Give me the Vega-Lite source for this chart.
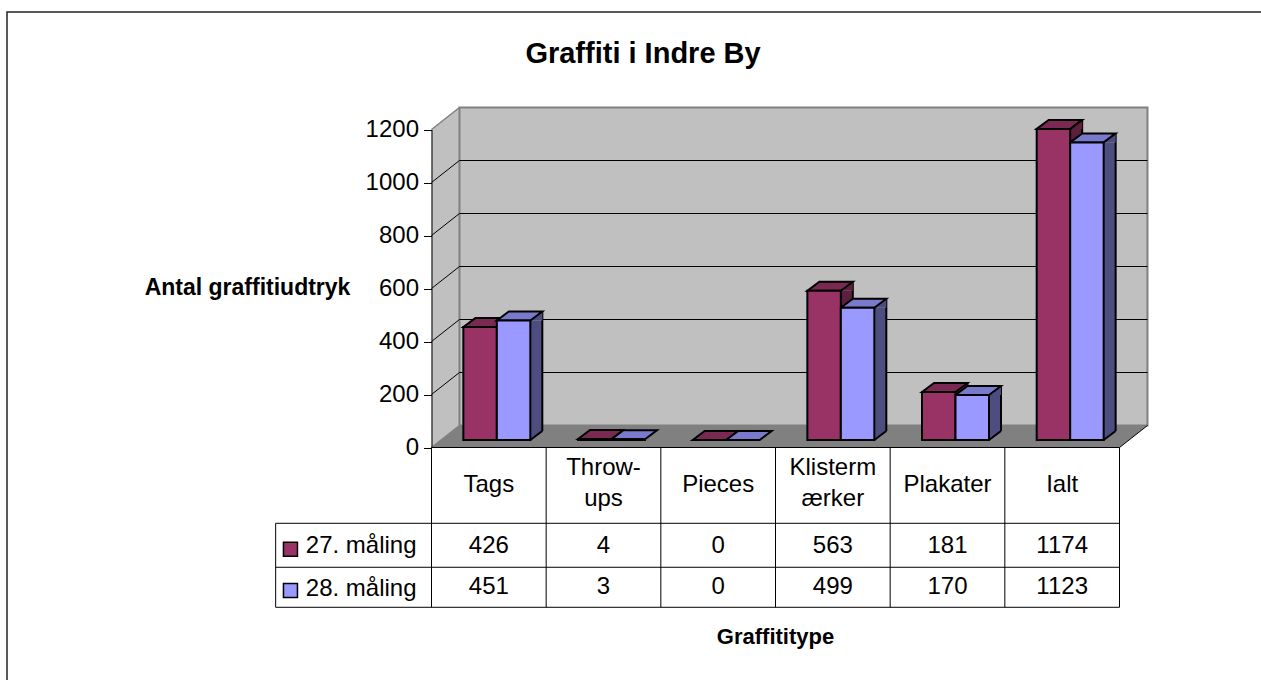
{
"$schema":"https://vega.github.io/schema/vega-lite/v6.json",
"autosize":"none",
"padding":{"left":7,"top":12,"right":0,"bottom":0},
"width":1260,"height":680,
"background":"white",
"view":{"stroke":"#222222","strokeWidth":1.5,"fill":"white"},
"config":{"font":"Liberation Sans","text":{"font":"Liberation Sans"}},
"title":{"text":"Graffiti i Indre By","font":"Liberation Sans","fontSize":29,"fontWeight":"bold","color":"#000000","anchor":"middle","frame":"group","baseline":"middle","dx":6,"dy":71,"offset":0},
"datasets":{
"bars":[
{"type":"Tags","label":"Tags","serie":"27. måling","value":426},
{"type":"Throw-ups","label":"Throw-\nups","serie":"27. måling","value":4},
{"type":"Pieces","label":"Pieces","serie":"27. måling","value":0},
{"type":"Klistermærker","label":"Klisterm\nærker","serie":"27. måling","value":563},
{"type":"Plakater","label":"Plakater","serie":"27. måling","value":181},
{"type":"Ialt","label":"Ialt","serie":"27. måling","value":1174},
{"type":"Tags","label":"Tags","serie":"28. måling","value":451},
{"type":"Throw-ups","label":"Throw-\nups","serie":"28. måling","value":3},
{"type":"Pieces","label":"Pieces","serie":"28. måling","value":0},
{"type":"Klistermærker","label":"Klisterm\nærker","serie":"28. måling","value":499},
{"type":"Plakater","label":"Plakater","serie":"28. måling","value":170},
{"type":"Ialt","label":"Ialt","serie":"28. måling","value":1123}
],
"leftwall":[{"a":0,"lo":0,"hi":1200},{"a":0.244,"lo":83,"hi":1283}],
"floor":[{"v":0,"a":0,"b":6},{"v":83,"a":0.244,"b":6.244}],
"backwall":[{"a":0.244,"b":6.244,"lo":83,"hi":1283}],
"blacklines":[
{"a":0.244,"b":6.244,"p":283,"q":283},{"a":0.244,"b":6.244,"p":483,"q":483},{"a":0.244,"b":6.244,"p":683,"q":683},{"a":0.244,"b":6.244,"p":883,"q":883},{"a":0.244,"b":6.244,"p":1083,"q":1083},
{"a":0,"b":0.244,"p":200,"q":283},{"a":0,"b":0.244,"p":400,"q":483},{"a":0,"b":0.244,"p":600,"q":683},{"a":0,"b":0.244,"p":800,"q":883},{"a":0,"b":0.244,"p":1000,"q":1083},
{"a":6,"b":6.244,"p":0,"q":83},
{"a":0,"b":6,"p":0,"q":0},
{"a":-1.359,"b":6,"p":-286,"q":-286},{"a":-1.359,"b":6,"p":-452,"q":-452},{"a":-1.359,"b":6,"p":-603,"q":-603},
{"a":-1.359,"b":-1.359,"p":-286,"q":-603},
{"a":0,"b":0,"p":0,"q":-603},{"a":1,"b":1,"p":0,"q":-603},{"a":2,"b":2,"p":0,"q":-603},{"a":3,"b":3,"p":0,"q":-603},{"a":4,"b":4,"p":0,"q":-603},{"a":5,"b":5,"p":0,"q":-603},{"a":6,"b":6,"p":0,"q":-603}
],
"graylines":[{"a":0,"b":0.244,"p":1200,"q":1283},{"a":0,"b":0.244,"p":0,"q":83}]
},
"resolve":{"scale":{"x":"independent","xOffset":"independent","color":"independent"},"axis":{"x":"independent","y":"independent"}},
"layer":[
{"resolve":{"axis":{"x":"independent","y":"independent"}},"layer":[
{"data":{"name":"leftwall"},"mark":{"type":"area","fill":"#C0C0C0","stroke":null},
 "encoding":{"x":{"field":"a","type":"quantitative","scale":{"domain":[0,6],"range":[424.5,1112.5],"zero":false,"nice":false},
   "axis":{"orient":"bottom","title":"Graffititype","labels":false,"ticks":false,"domain":false,"grid":false,"titleFont":"Liberation Sans","titleFontSize":22,"titleFontWeight":"bold","titleColor":"#000000","titleX":768,"titleY":-56,"titleAlign":"center","titleAnchor":null,"titleBaseline":"middle"}},
  "y":{"field":"lo","type":"quantitative","scale":{"domain":[0,1200],"range":[435.5,117.5],"nice":false,"zero":false},
   "axis":{"orient":"left","offset":-424.5,"zindex":1,"title":"Antal graffitiudtryk","values":[0,200,400,600,800,1000,1200],"format":"d","grid":false,"tickSize":8,"tickColor":"#000000","domainColor":"#000000","labelFont":"Liberation Sans","labelFontSize":24,"labelColor":"#000000","labelPadding":5,"titleFont":"Liberation Sans","titleFontSize":23,"titleFontWeight":"bold","titleColor":"#000000","titleAngle":0,"titleX":-184.5,"titleY":275,"titleAlign":"center","titleBaseline":"middle","titleAnchor":null}},
  "y2":{"field":"hi"}}},
{"data":{"name":"floor"},"mark":{"type":"area","orient":"horizontal","fill":"#808080","stroke":null},
 "encoding":{"y":{"field":"v","type":"quantitative","scale":{"domain":[0,1200],"range":[435.5,117.5],"nice":false,"zero":false},"axis":null},
  "x":{"field":"a","type":"quantitative","scale":{"domain":[0,6],"range":[424.5,1112.5],"zero":false,"nice":false},"axis":null},
  "x2":{"field":"b"}}},
{"data":{"name":"backwall"},"mark":{"type":"rect","fill":"#C0C0C0","stroke":"#808080","strokeWidth":2},
 "encoding":{"x":{"field":"a","type":"quantitative","scale":{"domain":[0,6],"range":[424.5,1112.5],"zero":false,"nice":false},"axis":null},"x2":{"field":"b"},
  "y":{"field":"lo","type":"quantitative","scale":{"domain":[0,1200],"range":[435.5,117.5],"nice":false,"zero":false},"axis":null},"y2":{"field":"hi"}}},
{"data":{"name":"graylines"},"mark":{"type":"rule","stroke":"#808080","strokeWidth":1.5},
 "encoding":{"x":{"field":"a","type":"quantitative","scale":{"domain":[0,6],"range":[424.5,1112.5],"zero":false,"nice":false},"axis":null},"x2":{"field":"b"},
  "y":{"field":"p","type":"quantitative","scale":{"domain":[0,1200],"range":[435.5,117.5],"nice":false,"zero":false},"axis":null},"y2":{"field":"q"}}},
{"data":{"name":"blacklines"},"mark":{"type":"rule","stroke":"#000000","strokeWidth":1},
 "encoding":{"x":{"field":"a","type":"quantitative","scale":{"domain":[0,6],"range":[424.5,1112.5],"zero":false,"nice":false},"axis":null},"x2":{"field":"b"},
  "y":{"field":"p","type":"quantitative","scale":{"domain":[0,1200],"range":[435.5,117.5],"nice":false,"zero":false},"axis":null},"y2":{"field":"q"}}},
{"data":{"name":"bars"},"transform":[{"filter":"datum.type=='Tags' && datum.serie=='27. måling'"}],"mark":{"type":"point","shape":"square","size":196,"filled":true,"fill":"#993366","stroke":"#000000","strokeWidth":1.5,"opacity":1},
 "encoding":{"x":{"datum":-1.23,"type":"quantitative","scale":{"domain":[0,6],"range":[424.5,1112.5],"zero":false,"nice":false},"axis":null},
  "y":{"datum":-384,"type":"quantitative","scale":{"domain":[0,1200],"range":[435.5,117.5],"nice":false,"zero":false},"axis":null}}},
{"data":{"name":"bars"},"transform":[{"filter":"datum.type=='Tags' && datum.serie=='28. måling'"}],"mark":{"type":"point","shape":"square","size":196,"filled":true,"fill":"#9999FF","stroke":"#000000","strokeWidth":1.5,"opacity":1},
 "encoding":{"x":{"datum":-1.23,"type":"quantitative","scale":{"domain":[0,6],"range":[424.5,1112.5],"zero":false,"nice":false},"axis":null},
  "y":{"datum":-540,"type":"quantitative","scale":{"domain":[0,1200],"range":[435.5,117.5],"nice":false,"zero":false},"axis":null}}},
{"data":{"name":"bars"},"transform":[{"filter":"datum.type=='Tags' && datum.serie=='27. måling'"}],"mark":{"type":"text","align":"left","baseline":"middle","fontSize":24,"color":"#000000"},
 "encoding":{"text":{"field":"serie"},"x":{"datum":-1.096,"type":"quantitative","scale":{"domain":[0,6],"range":[424.5,1112.5],"zero":false,"nice":false},"axis":null},
  "y":{"datum":-372,"type":"quantitative","scale":{"domain":[0,1200],"range":[435.5,117.5],"nice":false,"zero":false},"axis":null}}},
{"data":{"name":"bars"},"transform":[{"filter":"datum.type=='Tags' && datum.serie=='28. måling'"}],"mark":{"type":"text","align":"left","baseline":"middle","fontSize":24,"color":"#000000"},
 "encoding":{"text":{"field":"serie"},"x":{"datum":-1.096,"type":"quantitative","scale":{"domain":[0,6],"range":[424.5,1112.5],"zero":false,"nice":false},"axis":null},
  "y":{"datum":-533,"type":"quantitative","scale":{"domain":[0,1200],"range":[435.5,117.5],"nice":false,"zero":false},"axis":null}}}
]},
{"data":{"name":"bars"},"transform":[{"filter":"datum.value>34"}],"mark":{"type":"bar","width":12,"yOffset":-7.5,"y2Offset":-16.5},
 "encoding":{
  "x":{"field":"type","type":"nominal","sort":null,"scale":{"type":"band","domain":["Tags","Throw-ups","Pieces","Klistermærker","Plakater","Ialt"],"range":[455.24,1143.24],"paddingInner":0.416,"paddingOuter":0.208},"axis":null},
  "xOffset":{"field":"serie","type":"nominal","scale":{"domain":["27. måling","28. måling"],"range":[0,66.97]}},
  "y":{"field":"value","type":"quantitative","scale":{"domain":[0,1200],"range":[435.5,117.5],"nice":false,"zero":false},"axis":null},
  "y2":{"datum":0},
  "color":{"field":"serie","type":"nominal","legend":null,"scale":{"domain":["27. måling","28. måling"],"range":["#5C1F3D","#4D4D80"]}}}},
{"data":{"name":"bars"},"transform":[{"filter":"datum.value>34"}],"mark":{"type":"bar","width":2,"yOffset":-16.5,"y2Offset":-16.5,"color":"#000000"},
 "encoding":{
  "x":{"field":"type","type":"nominal","sort":null,"scale":{"type":"band","domain":["Tags","Throw-ups","Pieces","Klistermærker","Plakater","Ialt"],"range":[461.24,1149.24],"paddingInner":0.416,"paddingOuter":0.208},"axis":null},
  "xOffset":{"field":"serie","type":"nominal","scale":{"domain":["27. måling","28. måling"],"range":[0,66.97]}},
  "y":{"field":"value","type":"quantitative","scale":{"domain":[0,1200],"range":[435.5,117.5],"nice":false,"zero":false},"axis":null},
  "y2":{"datum":0}}},
{"data":{"name":"bars"},
 "resolve":{"scale":{"color":"independent"},"axis":{"x":"independent","y":"independent"}},
 "encoding":{
  "x":{"field":"type","type":"nominal","sort":null,"scale":{"type":"band","domain":["Tags","Throw-ups","Pieces","Klistermærker","Plakater","Ialt"],"range":[432.5,1120.5],"paddingInner":0.416,"paddingOuter":0.208},"axis":null},
  "y":{"field":"value","type":"quantitative","scale":{"domain":[0,1200],"range":[435.5,117.5],"nice":false,"zero":false},"axis":null}
 },
 "layer":[
 {"transform":[{"filter":"datum.value>34"}],"mark":{"type":"point","filled":true,"size":4,"opacity":1,"stroke":null,"shape":"M16.74,-7.5L28.74,-16.5L28.74,-7.5Z"},
  "encoding":{"xOffset":{"field":"serie","type":"nominal","scale":{"domain":["27. måling","28. måling"],"range":[0,66.97]}},
   "color":{"field":"serie","type":"nominal","legend":null,"scale":{"domain":["27. måling","28. måling"],"range":["#5C1F3D","#4D4D80"]}}}},
 {"transform":[{"filter":"datum.value>34"}],"mark":{"type":"point","filled":true,"size":4,"opacity":1,"stroke":null,"shape":"M16.74,-7.5L28.74,-16.5L16.74,-16.5Z"},
  "encoding":{"xOffset":{"field":"serie","type":"nominal","scale":{"domain":["27. måling","28. måling"],"range":[0,66.97]}},"y":{"datum":0,"type":"quantitative","scale":{"domain":[0,1200],"range":[435.5,117.5],"nice":false,"zero":false},"axis":null},
   "color":{"field":"serie","type":"nominal","legend":null,"scale":{"domain":["27. måling","28. måling"],"range":["#5C1F3D","#4D4D80"]}}}},
 {"transform":[{"filter":"datum.value>34"}],"mark":{"type":"point","filled":false,"size":4,"opacity":1,"stroke":"#000000","strokeWidth":2,"shape":"M16.74,-7.5L28.74,-16.5"},
  "encoding":{"xOffset":{"field":"serie","type":"nominal","scale":{"domain":["27. måling","28. måling"],"range":[0,66.97]}},"y":{"datum":0,"type":"quantitative","scale":{"domain":[0,1200],"range":[435.5,117.5],"nice":false,"zero":false},"axis":null}}},
 {"mark":{"type":"point","filled":true,"size":4,"opacity":1,"stroke":"#000000","strokeWidth":2,"shape":"M-16.74,-7.5L-4.74,-16.5L28.74,-16.5L16.74,-7.5Z"},
  "encoding":{"xOffset":{"field":"serie","type":"nominal","scale":{"domain":["27. måling","28. måling"],"range":[0,66.97]}},
   "color":{"field":"serie","type":"nominal","legend":null,"scale":{"domain":["27. måling","28. måling"],"range":["#7A2952","#7A7ACC"]}}}},
 {"mark":{"type":"bar","stroke":"#000000","strokeWidth":2,"yOffset":-7.5,"y2Offset":-7.5},
  "encoding":{"xOffset":{"field":"serie","type":"nominal","scale":{"domain":["27. måling","28. måling"],"range":[0,66.97]}},"y2":{"datum":0},
   "color":{"field":"serie","type":"nominal","legend":null,"scale":{"domain":["27. måling","28. måling"],"range":["#993366","#9999FF"]}}}},
 {"transform":[{"filter":"datum.serie=='27. måling' && datum.type!='Throw-ups' && datum.type!='Klistermærker'"}],"mark":{"type":"text","fontSize":24,"color":"#000000","baseline":"middle","dx":-8},
  "encoding":{"text":{"field":"label"},"y":{"datum":-140,"type":"quantitative","scale":{"domain":[0,1200],"range":[435.5,117.5],"nice":false,"zero":false},"axis":null}}},
 {"transform":[{"filter":"datum.serie=='27. måling' && (datum.type=='Throw-ups' || datum.type=='Klistermærker')"}],"mark":{"type":"text","lineBreak":"\n","lineHeight":31,"fontSize":24,"color":"#000000","baseline":"middle","dx":-8},
  "encoding":{"text":{"field":"label"},"y":{"datum":-79,"type":"quantitative","scale":{"domain":[0,1200],"range":[435.5,117.5],"nice":false,"zero":false},"axis":null}}},
 {"transform":[{"filter":"datum.serie=='27. måling'"}],"mark":{"type":"text","fontSize":24,"color":"#000000","baseline":"middle","dx":-8},
  "encoding":{"text":{"field":"value","type":"quantitative","format":"d"},"y":{"datum":-372,"type":"quantitative","scale":{"domain":[0,1200],"range":[435.5,117.5],"nice":false,"zero":false},"axis":null}}},
 {"transform":[{"filter":"datum.serie=='28. måling'"}],"mark":{"type":"text","fontSize":24,"color":"#000000","baseline":"middle","dx":-8},
  "encoding":{"text":{"field":"value","type":"quantitative","format":"d"},"y":{"datum":-527,"type":"quantitative","scale":{"domain":[0,1200],"range":[435.5,117.5],"nice":false,"zero":false},"axis":null}}}
 ]}
]
}
